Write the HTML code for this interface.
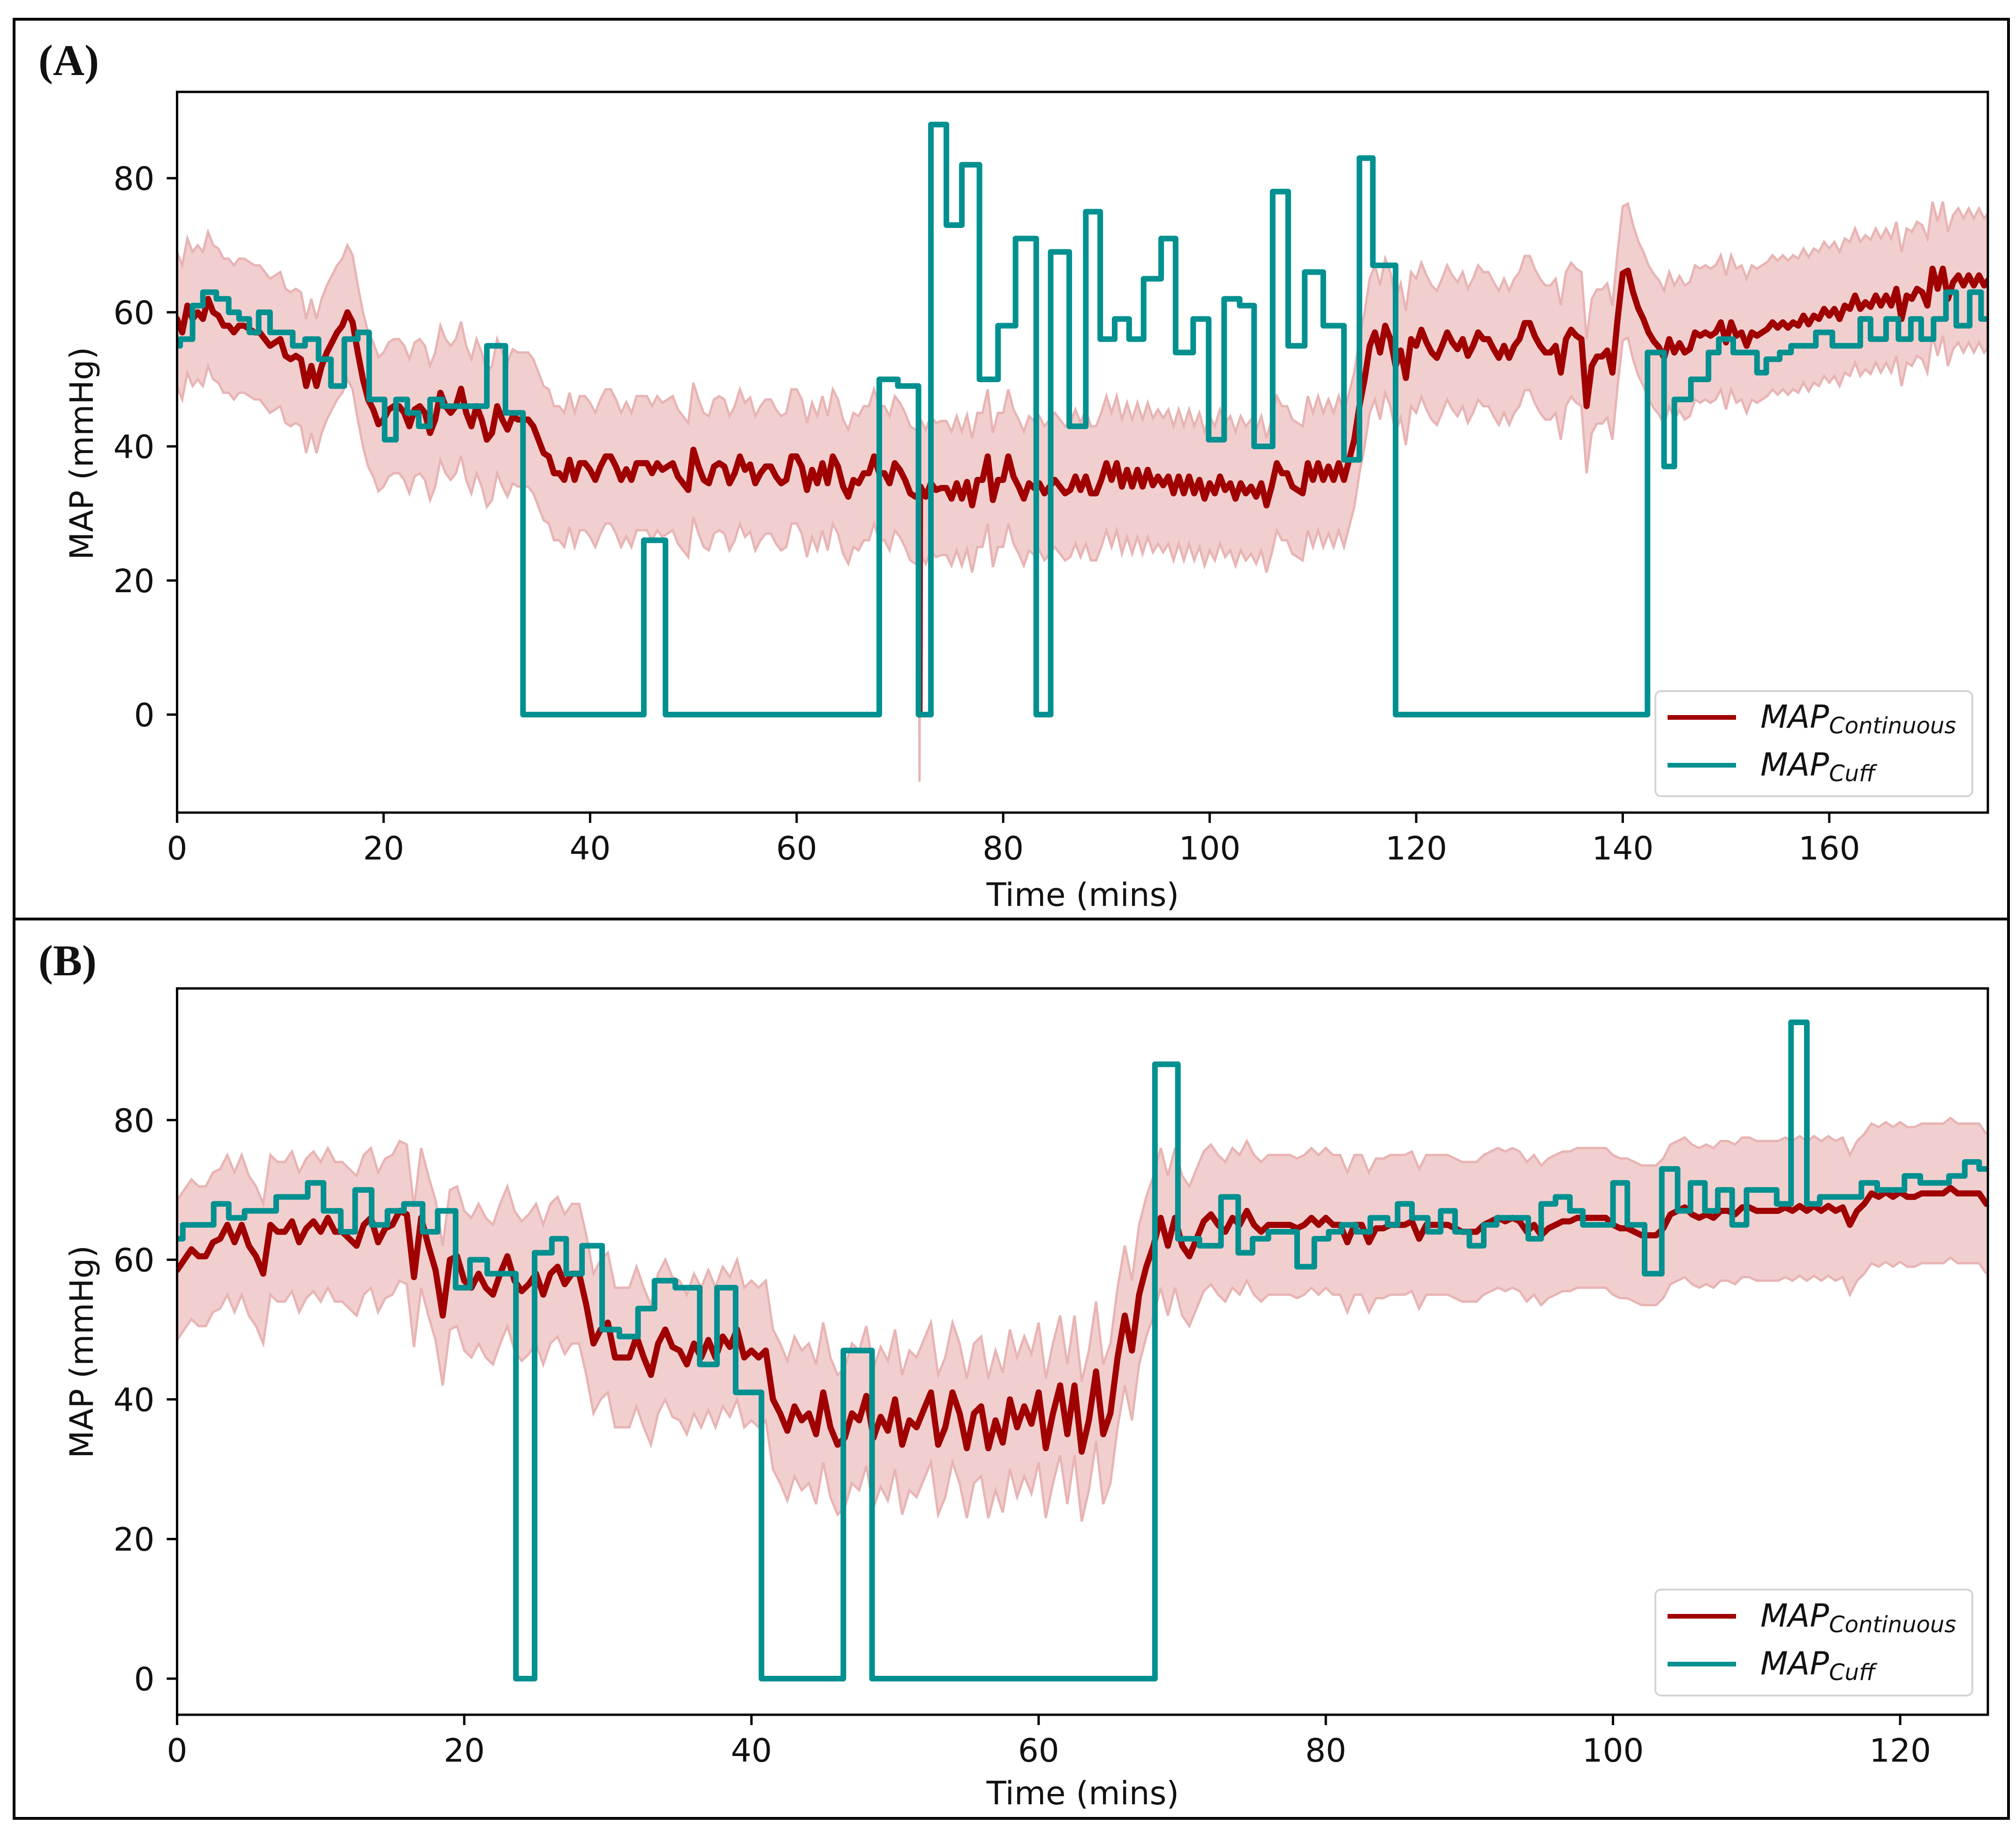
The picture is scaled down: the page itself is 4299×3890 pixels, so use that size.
<!DOCTYPE html>
<html lang="en">
<head>
<meta charset="utf-8">
<title>MAP continuous vs cuff</title>
<style>
html,body{margin:0;padding:0;background:#fff;}
svg{display:block;}
text{font-family:"DejaVu Sans","Liberation Sans",sans-serif;fill:#111;}
.lab{font-family:"Liberation Serif",serif;font-weight:bold;font-size:93px;}
.leg{font-style:italic;font-size:68px;}
.sub{font-size:48px;}
</style>
</head>
<body>
<svg id="figure" xmlns="http://www.w3.org/2000/svg" width="4299" height="3890" viewBox="0 0 4299 3890">
  <rect x="0" y="0" width="4299" height="3890" fill="#fff"/>
  <rect x="30" y="41" width="4253" height="1919" fill="none" stroke="#000" stroke-width="6"/>
  <rect x="30" y="1960" width="4253" height="1918" fill="none" stroke="#000" stroke-width="6"/>
  <text class="lab" x="82" y="160">(A)</text>
  <text class="lab" x="82" y="2080">(B)</text>
  <g id="plotA"></g>
  <g id="plotB"></g>

  <text x="2309" y="1932" font-size="69" text-anchor="middle">Time (mins)</text>
  <text x="2309" y="3848" font-size="69" text-anchor="middle">Time (mins)</text>
  <text transform="translate(198,967) rotate(-90)" font-size="69" text-anchor="middle">MAP (mmHg)</text>
  <text transform="translate(198,2883) rotate(-90)" font-size="69" text-anchor="middle">MAP (mmHg)</text>

  <g>
    <rect x="3530" y="1474" width="676" height="224" rx="12" fill="#fff" fill-opacity="0.85" stroke="#d4d4d4" stroke-width="4"/>
    <line x1="3556" x2="3702" y1="1530" y2="1530" stroke="#a00000" stroke-width="10"/>
    <line x1="3556" x2="3702" y1="1632" y2="1632" stroke="#009090" stroke-width="10"/>
    <text class="leg" x="3754" y="1552">MAP<tspan class="sub" dy="12">Continuous</tspan></text>
    <text class="leg" x="3754" y="1654">MAP<tspan class="sub" dy="12">Cuff</tspan></text>
  </g>
  <g>
    <rect x="3530" y="3390" width="676" height="226" rx="12" fill="#fff" fill-opacity="0.85" stroke="#d4d4d4" stroke-width="4"/>
    <line x1="3556" x2="3702" y1="3447" y2="3447" stroke="#a00000" stroke-width="10"/>
    <line x1="3556" x2="3702" y1="3549" y2="3549" stroke="#009090" stroke-width="10"/>
    <text class="leg" x="3754" y="3469">MAP<tspan class="sub" dy="12">Continuous</tspan></text>
    <text class="leg" x="3754" y="3571">MAP<tspan class="sub" dy="12">Cuff</tspan></text>
  </g>
</svg>
<script>
const bandMargin = 10;
const sampleMinutes = 0.5;

const xTicksA = [0,20,40,60,80,100,120,140,160];
const yTicksA = [0,20,40,60,80];
const xTicksB = [0,20,40,60,80,100,120];
const yTicksB = [0,20,40,60,80];

const continuousA = [
59,57,61,59,60,59,62,60,59.5,58,58,57,58,58,57.5,57,57,56,55,55.5,
56,53.5,53,53.5,53,49,52,49,52,54,55.5,57,58,60,58.5,54,50,47,45.5,43.3,
44,45.5,46,46,45,43,45.5,46,45,42,44,48,46,45,46,48.6,45,43,46,44,
41,42,46,44,42.5,44.5,44,44,44,43,41,39,38.5,36,36,35,38,35,37.5,37.5,
36.5,35,37,38.5,38.5,37,35,36.6,35,37.5,37.5,37.5,36,37.5,36.5,37,37.5,35.5,34.5,33.5,
39.5,37,35,34.5,37,37.5,37,34.5,36,38.5,36.5,37.3,34.5,36,37,37,35.5,34.5,35,38.5,
38.5,37,33.5,36.5,34.5,37.5,34.5,38.5,37,34,32.5,35,34.5,36,36,38.5,36,36,34.5,37.5,
36.5,35,33,32.5,34,32.5,34.5,33.5,33.8,33.8,32.2,34.5,32.2,34.7,31.2,35,35,38.5,32,35,
35,38.5,35.5,34,32.2,34.5,33.8,34.5,33,34,35,34,33,33.5,35.5,33.5,35.5,33,33,35,
37.5,35,37.5,34,36.5,34,36.5,34,36.5,34.2,35.5,34.2,35.5,33,35.5,33,35.5,33,35,32.2,
34.5,33,35.5,33.5,34.5,32.2,34.5,33,34,32.5,34.5,31.2,34,37.5,36,36,34,33.5,33,37.5,
35,37.5,35,37,35,37.5,35,38,41,46,50,55,57,54,58,56,52,54.3,50.2,56,
55,57.4,55.5,54,53.2,55,57,55.5,54.5,56,53.5,55,57,56,56,54.5,53.2,55,53.2,55,
56,58.4,58.4,56.4,55,54,54,55,51,56,57.4,56.5,56,46,52,53.4,53.4,54.3,51,59,
65.8,66.2,63,60.6,59,57,55.7,54.8,53.2,56,54,55.4,54,54.5,57,56.5,57,56.5,57,58.5,
55.5,58.5,56.5,57,55,57,56.5,57,57.5,58.5,57.7,58.5,57.7,58.5,58,59.5,58.2,59.5,59,60.5,
59.5,60.5,59,61,60.5,62.5,60.5,61.5,60.8,62.5,61,62.5,61,63.5,59,62.5,62,63.5,63,61,
66.5,63.5,66.5,62,64.5,65.5,64,65.5,64,65.5,64,65
];
const spikeTimesA = [71.85,71.9,71.95];
const spikeValuesA = [33,0,33];
const cuffTimesA = [0,0.3,1.5,2.5,3.8,5,6,7,7.9,9,11.2,12.4,13.7,14.9,16.2,17.5,18.6,20.1,21.2,22.3,23.4,24.5,25.7,30,31.8,33.5,45.2,47.3,68,69.8,71.8,73,74.5,76,77.7,79.5,81.2,83.2,84.6,86.4,88,89.4,90.8,92.2,93.6,95.3,96.7,98.4,99.9,101.4,102.9,104.3,106.1,107.6,109.2,111,113,114.5,115.8,118,142.4,144,145,146.6,148.3,149.3,150.7,153,153.9,155.2,156.3,158.7,160.3,163,164,165.5,166.7,167.9,168.9,170.1,171.3,172.3,173.6,174.7];
const cuffValuesA = [55,56,61,63,62,60,59,57,60,57,55,56,53,49,56,57,47,41,47,45,43,47,46,55,45,0,26,0,50,49,0,88,73,82,50,58,71,0,69,43,75,56,59,56,65,71,54,59,41,62,61,40,78,55,66,58,38,83,67,0,54,37,47,50,54,56,54,51,53,54,55,57,55,59,56,59,56,59,56,59,63,58,63,59];

const continuousB = [
58.5,60,61.5,60.5,60.5,62.5,63,65,62.5,65,62,60.5,58,65,64,64,65.5,62.5,64.5,65.5,
64,66,64,64,63,62,65,66,62.5,64.5,65,67,66.5,57.5,66,62,58.5,52,60,60.5,
57,56,58,56,55,58,60.5,57,55.5,56.5,58,55,58,59,56.5,58,58,53.5,48,50,
51,46,46,46,49,46,43.5,48,50,47.5,47,45,48,46,48.5,46,49,47.5,50,46,
47,46,47,40,38,35.5,39,37,38,35,41,36,33.5,34.5,38,37,40.5,34.5,37.5,35.5,
40,33.5,37,36,38.5,41,33.5,36,41,38,33,38,39,33,37,33.8,40,36,39,36.5,
41,33,38,42,35,42,32.5,37,44,35,38,46,52,47,55,59,62,66,62,66,
62,60.5,63,65.5,66.5,65,64,66,65,67,65,64,65,65,65,65,64.5,65,66,65,
66,65,65,62.5,65,65,62.5,64.5,64.5,65,65,65,65.5,63,65,65,65,65,64.5,64,
64,64,65,65.5,66,65.5,66,65.5,64,65,63.5,64.5,65,65.5,65.5,66,66,66,66,66,
65,64.5,64.5,64,63.5,63.5,63.5,64.5,66.5,67,67.5,66.5,66,66.5,66,67,67,66.5,67.5,67.5,
67,67,67,67,67.5,67,67.7,67,67.7,67,67.7,67,67.5,65,67,68,69.5,69,69.7,69,
69.7,69,69,69.5,69.5,69.5,69.5,70.3,69.5,69.5,69.5,69.5,68
];
const spikeTimesB = [];
const spikeValuesB = [];
const cuffTimesB = [0,0.4,2.55,3.6,4.7,6.9,9.1,10.2,11.4,12.4,13.55,14.65,15.8,17.1,18.15,19.4,20.4,21.6,23.6,24.9,26.1,27.1,28.2,29.6,30.8,32.1,33.25,34.7,36.4,37.6,38.9,40.7,46.4,48.4,68.1,69.7,71.2,72.7,73.9,74.9,76,78,79.2,80.2,81.1,82.1,83.1,84.3,85,86,87.1,88,89,90,91,91.9,94.1,95,96,97,97.9,100,101,102.2,103.4,104.5,105.4,106.4,107.3,108.3,109.3,111.4,112.4,113.5,114.4,117.3,118.4,120.3,121.4,123.4,124.5,125.5];
const cuffValuesB = [63,65,68,66,67,69,71,67,64,70,65,67,68,64,67,56,60,58,0,61,63,58,62,50,49,53,57,56,45,56,41,0,47,0,88,63,62,69,61,63,64,59,63,64,65,64,66,65,68,66,64,67,64,62,65,66,63,68,69,67,65,71,65,58,73,67,71,67,70,65,70,68,94,68,69,71,70,72,71,72,74,73];

const SVGNS = 'http://www.w3.org/2000/svg';

function drawPanel(rootId, key, box, xMax, xPerMin, y0, yPerUnit, xTicks, yTicks, values, spikeT, spikeV, cuffT, cuffV, tickLabelY) {
  const root = document.getElementById(rootId);
  const xs = t => box.left + t * xPerMin;
  const ys = v => y0 - v * yPerUnit;
  const f = n => n.toFixed(1);

  let samples = values.map((v, i) => [i * sampleMinutes, v]);
  spikeT.forEach((t, i) => samples.push([t, spikeV[i]]));
  samples.sort((a, b) => a[0] - b[0]);
  samples = samples.filter(p => p[0] <= xMax + 1);

  const clip = document.createElementNS(SVGNS, 'clipPath');
  clip.setAttribute('id', 'clip' + key);
  const clipRect = document.createElementNS(SVGNS, 'rect');
  clipRect.setAttribute('x', box.left);
  clipRect.setAttribute('y', box.top);
  clipRect.setAttribute('width', box.right - box.left);
  clipRect.setAttribute('height', box.bottom - box.top);
  clip.appendChild(clipRect);
  root.appendChild(clip);

  const g = document.createElementNS(SVGNS, 'g');
  g.setAttribute('clip-path', 'url(#clip' + key + ')');
  
  
  root.appendChild(g);

  const upper = samples.map(p => f(xs(p[0])) + ',' + f(ys(p[1] + bandMargin)));
  const lower = samples.map(p => f(xs(p[0])) + ',' + f(ys(p[1] - bandMargin)));

  const band = document.createElementNS(SVGNS, 'polygon');
  band.setAttribute('points', upper.concat(lower.slice().reverse()).join(' '));
  band.setAttribute('fill', '#f2cfcf');
  
  
  g.appendChild(band);

  const upperLine = document.createElementNS(SVGNS, 'polyline');
  upperLine.setAttribute('points', upper.join(' '));
  upperLine.setAttribute('fill', 'none');
  upperLine.setAttribute('stroke', '#e8b4b4');
  upperLine.setAttribute('stroke-width', '5');
  
  
  g.appendChild(upperLine);

  const lowerLine = document.createElementNS(SVGNS, 'polyline');
  lowerLine.setAttribute('points', lower.join(' '));
  lowerLine.setAttribute('fill', 'none');
  lowerLine.setAttribute('stroke', '#e8b4b4');
  lowerLine.setAttribute('stroke-width', '5');
  
  
  g.appendChild(lowerLine);

  const contLine = document.createElementNS(SVGNS, 'polyline');
  contLine.setAttribute('points', samples.map(p => f(xs(p[0])) + ',' + f(ys(p[1]))).join(' '));
  contLine.setAttribute('fill', 'none');
  contLine.setAttribute('stroke', '#a00000');
  contLine.setAttribute('stroke-width', '13');
  contLine.setAttribute('stroke-linejoin', 'round');
  contLine.setAttribute('stroke-linecap', 'round');
  
  
  g.appendChild(contLine);

  const stepPts = [];
  cuffT.forEach((t, i) => {
    const next = i + 1 < cuffT.length ? cuffT[i + 1] : xMax;
    stepPts.push(f(xs(t)) + ',' + f(ys(cuffV[i])));
    stepPts.push(f(xs(next)) + ',' + f(ys(cuffV[i])));
  });
  const cuffLine = document.createElementNS(SVGNS, 'polyline');
  cuffLine.setAttribute('points', stepPts.join(' '));
  cuffLine.setAttribute('fill', 'none');
  cuffLine.setAttribute('stroke', '#009090');
  cuffLine.setAttribute('stroke-width', '12');
  cuffLine.setAttribute('stroke-linejoin', 'round');
  
  
  g.appendChild(cuffLine);

  const frame = document.createElementNS(SVGNS, 'rect');
  frame.setAttribute('x', box.left);
  frame.setAttribute('y', box.top);
  frame.setAttribute('width', box.right - box.left);
  frame.setAttribute('height', box.bottom - box.top);
  frame.setAttribute('fill', 'none');
  frame.setAttribute('stroke', '#000');
  frame.setAttribute('stroke-width', '5');
  
  
  root.appendChild(frame);

  xTicks.forEach(t => {
    const tick = document.createElementNS(SVGNS, 'line');
    tick.setAttribute('x1', f(xs(t)));
    tick.setAttribute('x2', f(xs(t)));
    tick.setAttribute('y1', box.bottom);
    tick.setAttribute('y2', box.bottom + 22);
    tick.setAttribute('stroke', '#000');
    tick.setAttribute('stroke-width', '5');
    
    
    root.appendChild(tick);
    const label = document.createElementNS(SVGNS, 'text');
    label.setAttribute('x', f(xs(t)));
    label.setAttribute('y', tickLabelY);
    label.setAttribute('font-size', '69');
    label.setAttribute('text-anchor', 'middle');
    
    
    label.textContent = String(t);
    root.appendChild(label);
  });

  yTicks.forEach(v => {
    const tick = document.createElementNS(SVGNS, 'line');
    tick.setAttribute('x1', box.left - 22);
    tick.setAttribute('x2', box.left);
    tick.setAttribute('y1', f(ys(v)));
    tick.setAttribute('y2', f(ys(v)));
    tick.setAttribute('stroke', '#000');
    tick.setAttribute('stroke-width', '5');
    
    
    root.appendChild(tick);
    const label = document.createElementNS(SVGNS, 'text');
    label.setAttribute('x', box.left - 48);
    label.setAttribute('y', f(ys(v) + 25));
    label.setAttribute('font-size', '69');
    label.setAttribute('text-anchor', 'end');
    
    
    label.textContent = String(v);
    root.appendChild(label);
  });
}

drawPanel('plotA', 'A', {left:377.6, right:4239, top:196, bottom:1733}, 175.4, 22.02, 1524, 14.3,
  xTicksA, yTicksA, continuousA, spikeTimesA, spikeValuesA, cuffTimesA, cuffValuesA, 1833);
drawPanel('plotB', 'B', {left:377.6, right:4239, top:2108, bottom:3657}, 126.1, 30.62, 3580, 14.89,
  xTicksB, yTicksB, continuousB, spikeTimesB, spikeValuesB, cuffTimesB, cuffValuesB, 3757);
</script>
</body>
</html>
